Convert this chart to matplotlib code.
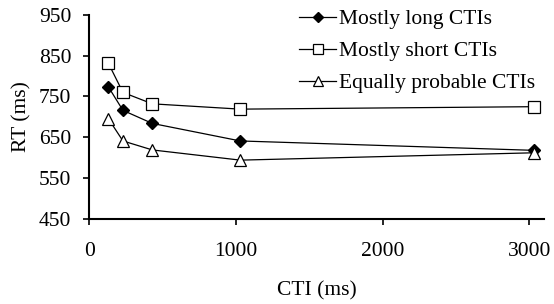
import matplotlib.pyplot as plt

plt.rcParams['font.family'] = ['Liberation Serif', 'DejaVu Serif']

# CTI values (ms) and mean RTs per condition
cti = [130, 230, 430, 1030, 3030]
mostly_long = [774, 716, 684, 641, 618]
mostly_short = [832, 760, 732, 719, 725]
equally_probable = [696, 641, 619, 594, 612]

fig = plt.figure(figsize=(5.54, 3.04), dpi=100)
ax = fig.add_axes([0.161, 0.280, 0.821, 0.671])

ax.plot(cti, mostly_long, color='black', lw=0.9, marker='D', ms=6.5,
        mfc='black', mec='black', label='Mostly long CTIs')
ax.plot(cti, mostly_short, color='black', lw=0.9, marker='s', ms=9,
        mfc='white', mec='black', mew=0.9, label='Mostly short CTIs')
ax.plot(cti, equally_probable, color='black', lw=0.9, marker='^', ms=9,
        mfc='white', mec='black', mew=0.9, label='Equally probable CTIs')

ax.set_xlim(0, 3100)
ax.set_ylim(450, 950)
ax.set_xticks([0, 1000, 2000, 3000])
ax.set_yticks([450, 550, 650, 750, 850, 950])

for s in ['top', 'right']:
    ax.spines[s].set_visible(False)
for s in ['left', 'bottom']:
    ax.spines[s].set_linewidth(1.5)

ax.tick_params(axis='both', labelsize=15.5, width=1.2, length=4, direction='out')
ax.tick_params(axis='x', pad=13)
ax.tick_params(axis='y', pad=9)
ax.set_xlabel('CTI (ms)', fontsize=15.5, labelpad=14)
ax.set_ylabel('RT (ms)', fontsize=15.5, labelpad=5)

ax.legend(loc='upper right', bbox_to_anchor=(1.0, 1.07), frameon=False,
          fontsize=15.5, handlelength=1.7, handletextpad=0.15, labelspacing=0.55,
          markerscale=0.8, borderaxespad=0)

fig.savefig('out.png', dpi=100)
